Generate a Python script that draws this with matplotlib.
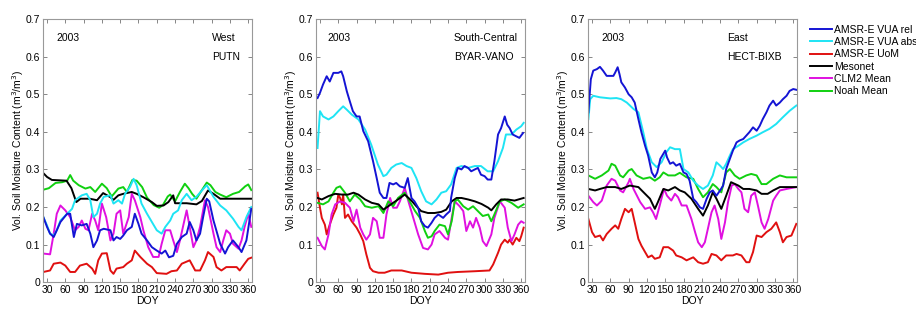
import matplotlib
matplotlib.use("Agg")
import matplotlib.pyplot as plt
from matplotlib.ticker import FuncFormatter

plt.rcParams["font.family"] = ["Liberation Sans", "DejaVu Sans"]
plt.rcParams["font.size"] = 7.5

labels = ["AMSR-E VUA rel", "AMSR-E VUA abs", "AMSR-E UoM", "Mesonet", "CLM2 Mean", "Noah Mean"]
colors = ["#1414d4", "#1ee4f4", "#e01010", "#000000", "#e010e0", "#10d010"]

# ---- West / PUTN ----
w_rel_doy = [24, 30, 35, 41, 46, 52, 63, 68, 74, 79, 87, 95, 101, 106, 112, 117, 123, 134, 139, 144, 150, 155, 161, 169, 174, 180, 185, 194, 202, 210, 218, 224, 230, 237, 243, 251, 259, 264, 270, 275, 281, 286, 292, 296, 303, 314, 322, 327, 335, 344, 349, 357, 365]
w_rel = [0.173, 0.147, 0.129, 0.12, 0.138, 0.16, 0.182, 0.182, 0.12, 0.155, 0.151, 0.155, 0.129, 0.093, 0.111, 0.138, 0.142, 0.138, 0.111, 0.12, 0.115, 0.124, 0.138, 0.147, 0.182, 0.155, 0.129, 0.111, 0.093, 0.084, 0.076, 0.084, 0.066, 0.07, 0.102, 0.12, 0.129, 0.16, 0.138, 0.111, 0.129, 0.173, 0.222, 0.215, 0.164, 0.102, 0.076, 0.093, 0.111, 0.093, 0.08, 0.111, 0.195]
w_abs_doy = [24, 30, 35, 41, 46, 52, 63, 71, 76, 87, 95, 101, 106, 112, 117, 123, 134, 139, 147, 153, 158, 166, 172, 177, 185, 194, 202, 210, 218, 224, 232, 237, 245, 251, 259, 267, 275, 284, 292, 303, 314, 324, 335, 344, 349, 357, 365]
w_abs = [0.173, 0.151, 0.129, 0.124, 0.138, 0.164, 0.182, 0.195, 0.218, 0.231, 0.235, 0.218, 0.173, 0.182, 0.209, 0.227, 0.231, 0.209, 0.218, 0.209, 0.235, 0.253, 0.275, 0.258, 0.209, 0.182, 0.16, 0.138, 0.129, 0.147, 0.164, 0.182, 0.191, 0.218, 0.235, 0.218, 0.227, 0.244, 0.258, 0.227, 0.204, 0.191, 0.169, 0.147, 0.138, 0.173, 0.2]
w_uom_doy = [24, 35, 41, 52, 60, 68, 76, 84, 95, 104, 109, 114, 120, 128, 134, 139, 144, 155, 161, 169, 174, 183, 194, 202, 210, 226, 234, 243, 251, 264, 273, 281, 289, 294, 303, 308, 316, 324, 341, 346, 354, 360, 365]
w_uom = [0.027, 0.031, 0.049, 0.052, 0.044, 0.027, 0.027, 0.044, 0.049, 0.036, 0.022, 0.058, 0.076, 0.077, 0.031, 0.022, 0.036, 0.04, 0.049, 0.058, 0.084, 0.067, 0.049, 0.04, 0.024, 0.022, 0.029, 0.031, 0.049, 0.058, 0.031, 0.031, 0.058, 0.08, 0.067, 0.04, 0.031, 0.04, 0.04, 0.031, 0.049, 0.062, 0.065]
w_mes_doy = [24, 30, 38, 62, 70, 78, 85, 100, 112, 122, 134, 139, 147, 155, 169, 177, 188, 202, 210, 221, 229, 237, 240, 259, 275, 284, 294, 303, 314, 365]
w_mes = [0.29, 0.28, 0.272, 0.27, 0.25, 0.213, 0.222, 0.222, 0.218, 0.237, 0.226, 0.219, 0.231, 0.235, 0.24, 0.235, 0.226, 0.213, 0.203, 0.204, 0.213, 0.231, 0.21, 0.21, 0.207, 0.216, 0.244, 0.235, 0.222, 0.222]
w_clm_doy = [24, 35, 41, 46, 52, 60, 68, 76, 82, 87, 93, 98, 104, 109, 114, 120, 127, 134, 139, 144, 150, 155, 164, 169, 174, 183, 188, 196, 204, 213, 218, 224, 232, 237, 243, 248, 254, 259, 264, 270, 275, 281, 289, 294, 303, 308, 314, 319, 324, 330, 335, 344, 349, 354, 360, 365]
w_clm = [0.076, 0.074, 0.129, 0.182, 0.204, 0.191, 0.173, 0.138, 0.147, 0.164, 0.142, 0.138, 0.182, 0.164, 0.138, 0.209, 0.173, 0.111, 0.129, 0.182, 0.191, 0.129, 0.173, 0.235, 0.218, 0.173, 0.138, 0.093, 0.067, 0.067, 0.102, 0.138, 0.138, 0.111, 0.08, 0.111, 0.155, 0.191, 0.147, 0.093, 0.111, 0.147, 0.218, 0.2, 0.129, 0.093, 0.08, 0.111, 0.138, 0.129, 0.102, 0.089, 0.111, 0.147, 0.182, 0.147]
w_noah_doy = [24, 33, 44, 55, 63, 68, 73, 82, 93, 101, 109, 120, 128, 136, 147, 155, 161, 170, 177, 186, 194, 205, 214, 220, 228, 232, 240, 248, 256, 262, 268, 275, 284, 292, 298, 306, 314, 324, 335, 345, 355, 360, 365]
w_noah = [0.246, 0.25, 0.264, 0.266, 0.27, 0.285, 0.27, 0.258, 0.249, 0.253, 0.24, 0.262, 0.25, 0.228, 0.249, 0.253, 0.24, 0.272, 0.27, 0.253, 0.225, 0.205, 0.198, 0.205, 0.228, 0.233, 0.215, 0.24, 0.262, 0.25, 0.235, 0.222, 0.245, 0.265, 0.258, 0.24, 0.233, 0.226, 0.235, 0.24, 0.255, 0.26, 0.245]

# ---- South-Central / BYAR-VANO ----
s_rel_doy = [26, 30, 35, 41, 46, 52, 60, 65, 68, 74, 79, 84, 90, 95, 101, 109, 117, 123, 128, 134, 139, 144, 150, 155, 161, 169, 174, 180, 185, 191, 196, 202, 207, 213, 218, 224, 232, 237, 243, 245, 251, 256, 262, 267, 273, 278, 284, 289, 294, 300, 305, 311, 316, 322, 327, 333, 337, 341, 346, 352, 357, 363]
s_rel = [0.49, 0.504, 0.526, 0.548, 0.534, 0.557, 0.557, 0.561, 0.548, 0.508, 0.481, 0.455, 0.441, 0.441, 0.402, 0.375, 0.322, 0.277, 0.238, 0.224, 0.224, 0.264, 0.26, 0.264, 0.255, 0.251, 0.277, 0.224, 0.215, 0.198, 0.162, 0.149, 0.145, 0.158, 0.171, 0.18, 0.171, 0.18, 0.189, 0.224, 0.277, 0.304, 0.3, 0.309, 0.304, 0.295, 0.3, 0.304, 0.286, 0.282, 0.273, 0.273, 0.322, 0.393, 0.41, 0.441, 0.419, 0.41, 0.393, 0.388, 0.384, 0.397]
s_abs_doy = [26, 30, 35, 44, 52, 60, 68, 74, 82, 93, 104, 114, 125, 134, 139, 147, 155, 164, 172, 180, 188, 196, 204, 213, 221, 229, 237, 245, 254, 262, 273, 284, 294, 305, 314, 322, 330, 335, 344, 352, 360, 364]
s_abs = [0.357, 0.455, 0.441, 0.433, 0.441, 0.455, 0.468, 0.459, 0.446, 0.433, 0.406, 0.366, 0.313, 0.282, 0.286, 0.304, 0.313, 0.317, 0.309, 0.304, 0.277, 0.242, 0.215, 0.207, 0.22, 0.238, 0.242, 0.26, 0.304, 0.309, 0.304, 0.309, 0.309, 0.295, 0.295, 0.322, 0.357, 0.393, 0.393, 0.406, 0.415, 0.424]
s_uom_doy = [26, 30, 33, 38, 41, 46, 52, 57, 60, 63, 66, 68, 71, 76, 82, 90, 96, 101, 106, 112, 117, 126, 136, 147, 164, 180, 202, 224, 240, 256, 284, 308, 314, 322, 327, 333, 338, 341, 346, 352, 357, 360, 364]
s_uom = [0.238, 0.198, 0.171, 0.153, 0.127, 0.153, 0.18, 0.198, 0.233, 0.224, 0.207, 0.233, 0.171, 0.18, 0.162, 0.145, 0.127, 0.109, 0.074, 0.038, 0.029, 0.025, 0.025, 0.031, 0.031, 0.025, 0.022, 0.02, 0.025, 0.027, 0.029, 0.031, 0.047, 0.078, 0.1, 0.113, 0.105, 0.113, 0.1, 0.118, 0.109, 0.122, 0.145]
s_mes_doy = [26, 33, 44, 55, 66, 76, 85, 93, 104, 115, 126, 134, 142, 150, 158, 169, 180, 188, 196, 207, 218, 229, 237, 246, 254, 262, 273, 284, 295, 306, 311, 319, 327, 338, 349, 364]
s_mes = [0.224, 0.22, 0.229, 0.235, 0.233, 0.233, 0.238, 0.233, 0.22, 0.211, 0.207, 0.193, 0.202, 0.211, 0.22, 0.233, 0.217, 0.202, 0.189, 0.184, 0.184, 0.187, 0.193, 0.215, 0.224, 0.224, 0.22, 0.215, 0.208, 0.198, 0.191, 0.207, 0.22, 0.22, 0.217, 0.224]
s_clm_doy = [26, 33, 38, 44, 49, 55, 63, 71, 79, 85, 90, 96, 101, 106, 112, 117, 123, 128, 134, 139, 145, 150, 156, 161, 169, 175, 183, 191, 199, 207, 213, 218, 226, 235, 240, 246, 251, 259, 265, 270, 276, 281, 286, 292, 297, 303, 311, 316, 325, 333, 338, 344, 349, 355, 360, 364]
s_clm = [0.118, 0.096, 0.087, 0.127, 0.18, 0.207, 0.215, 0.211, 0.198, 0.162, 0.193, 0.145, 0.127, 0.113, 0.127, 0.171, 0.162, 0.118, 0.118, 0.18, 0.224, 0.198, 0.198, 0.215, 0.251, 0.215, 0.171, 0.127, 0.091, 0.087, 0.1, 0.127, 0.136, 0.118, 0.113, 0.171, 0.215, 0.202, 0.189, 0.136, 0.162, 0.145, 0.171, 0.145, 0.109, 0.096, 0.127, 0.171, 0.215, 0.198, 0.145, 0.109, 0.127, 0.153, 0.162, 0.158]
s_noah_doy = [26, 35, 44, 52, 57, 63, 71, 79, 87, 96, 104, 115, 126, 134, 142, 150, 158, 169, 177, 186, 194, 202, 207, 213, 218, 226, 235, 240, 246, 251, 256, 265, 273, 281, 289, 297, 306, 311, 316, 325, 333, 344, 355, 364]
s_noah = [0.211, 0.207, 0.215, 0.238, 0.251, 0.255, 0.238, 0.215, 0.233, 0.22, 0.202, 0.198, 0.202, 0.184, 0.215, 0.202, 0.224, 0.238, 0.215, 0.189, 0.171, 0.136, 0.118, 0.122, 0.136, 0.153, 0.149, 0.127, 0.162, 0.215, 0.22, 0.202, 0.193, 0.202, 0.189, 0.176, 0.18, 0.162, 0.18, 0.215, 0.22, 0.211, 0.198, 0.207]

# ---- East / HECT-BIXB ----
e_rel_doy = [24, 28, 32, 38, 43, 48, 54, 65, 68, 72, 75, 78, 84, 90, 95, 100, 106, 111, 117, 122, 128, 133, 137, 142, 150, 153, 158, 163, 168, 174, 180, 185, 190, 196, 201, 207, 212, 218, 223, 228, 234, 240, 245, 250, 256, 261, 267, 272, 278, 283, 288, 294, 300, 305, 310, 316, 321, 327, 332, 338, 343, 349, 354, 360, 365]
e_rel = [0.452, 0.54, 0.563, 0.567, 0.573, 0.563, 0.549, 0.549, 0.558, 0.572, 0.554, 0.532, 0.518, 0.5, 0.492, 0.478, 0.434, 0.399, 0.363, 0.337, 0.292, 0.279, 0.292, 0.328, 0.35, 0.332, 0.315, 0.319, 0.31, 0.315, 0.292, 0.288, 0.27, 0.222, 0.213, 0.199, 0.195, 0.222, 0.239, 0.244, 0.23, 0.244, 0.257, 0.301, 0.328, 0.35, 0.372, 0.377, 0.381, 0.39, 0.399, 0.412, 0.403, 0.416, 0.434, 0.452, 0.47, 0.483, 0.47, 0.478, 0.487, 0.496, 0.509, 0.514, 0.512]
e_abs_doy = [24, 27, 32, 43, 60, 70, 78, 87, 98, 106, 114, 120, 128, 136, 144, 152, 158, 166, 174, 180, 188, 196, 204, 212, 220, 228, 234, 240, 245, 250, 256, 261, 270, 278, 288, 300, 310, 321, 332, 343, 354, 365]
e_abs = [0.434, 0.487, 0.496, 0.492, 0.489, 0.49, 0.487, 0.478, 0.461, 0.452, 0.399, 0.354, 0.319, 0.306, 0.319, 0.346, 0.359, 0.354, 0.354, 0.301, 0.292, 0.27, 0.257, 0.248, 0.257, 0.284, 0.319, 0.31, 0.301, 0.315, 0.337, 0.354, 0.363, 0.372, 0.381, 0.39, 0.399, 0.408, 0.421, 0.439, 0.456, 0.47]
e_uom_doy = [24, 30, 35, 43, 48, 54, 62, 68, 73, 78, 84, 90, 95, 100, 106, 111, 117, 122, 128, 133, 141, 147, 155, 163, 168, 177, 185, 196, 204, 212, 220, 226, 234, 242, 250, 261, 267, 275, 283, 288, 294, 300, 308, 316, 324, 332, 338, 343, 349, 357, 365]
e_uom = [0.168, 0.133, 0.12, 0.124, 0.111, 0.128, 0.142, 0.151, 0.142, 0.168, 0.195, 0.186, 0.195, 0.159, 0.115, 0.097, 0.08, 0.066, 0.071, 0.062, 0.066, 0.093, 0.093, 0.084, 0.071, 0.066, 0.058, 0.066, 0.053, 0.049, 0.053, 0.075, 0.071, 0.058, 0.071, 0.071, 0.075, 0.071, 0.053, 0.053, 0.08, 0.124, 0.12, 0.133, 0.142, 0.159, 0.133, 0.106, 0.12, 0.124, 0.155]
e_mes_doy = [24, 35, 43, 54, 68, 78, 92, 106, 117, 125, 133, 138, 147, 155, 166, 174, 182, 193, 204, 212, 220, 228, 234, 242, 250, 258, 270, 278, 288, 300, 308, 318, 327, 338, 349, 365]
e_mes = [0.248, 0.244, 0.248, 0.253, 0.253, 0.248, 0.257, 0.253, 0.235, 0.222, 0.195, 0.213, 0.248, 0.244, 0.253, 0.244, 0.239, 0.222, 0.195, 0.177, 0.204, 0.239, 0.222, 0.195, 0.23, 0.266, 0.257, 0.248, 0.248, 0.244, 0.235, 0.235, 0.244, 0.253, 0.253, 0.253]
e_clm_doy = [24, 32, 38, 46, 54, 62, 68, 76, 81, 90, 92, 98, 109, 117, 125, 130, 135, 141, 148, 153, 160, 166, 171, 177, 185, 193, 199, 204, 210, 215, 220, 226, 231, 237, 242, 248, 253, 259, 264, 270, 275, 280, 286, 291, 297, 302, 308, 313, 319, 327, 332, 338, 349, 365]
e_clm = [0.23, 0.213, 0.204, 0.217, 0.257, 0.275, 0.27, 0.244, 0.239, 0.266, 0.275, 0.248, 0.213, 0.195, 0.199, 0.186, 0.168, 0.204, 0.248, 0.23, 0.217, 0.235, 0.226, 0.204, 0.204, 0.168, 0.133, 0.106, 0.093, 0.106, 0.142, 0.186, 0.204, 0.168, 0.115, 0.159, 0.213, 0.257, 0.261, 0.248, 0.239, 0.195, 0.186, 0.23, 0.239, 0.204, 0.159, 0.142, 0.168, 0.217, 0.23, 0.244, 0.248, 0.253]
e_noah_doy = [24, 35, 46, 57, 62, 68, 76, 81, 90, 95, 103, 114, 125, 133, 141, 147, 155, 166, 174, 185, 196, 204, 212, 220, 228, 234, 242, 250, 256, 264, 272, 283, 291, 300, 308, 316, 327, 338, 349, 365]
e_noah = [0.284, 0.275, 0.284, 0.297, 0.315, 0.31, 0.284, 0.279, 0.297, 0.301, 0.284, 0.275, 0.279, 0.27, 0.279, 0.292, 0.284, 0.284, 0.291, 0.279, 0.275, 0.248, 0.226, 0.239, 0.261, 0.253, 0.239, 0.292, 0.301, 0.284, 0.275, 0.284, 0.288, 0.284, 0.261, 0.261, 0.275, 0.284, 0.279, 0.279]

panels = [
    ("West", "PUTN", [(w_rel_doy, w_rel), (w_abs_doy, w_abs), (w_uom_doy, w_uom),
                      (w_mes_doy, w_mes), (w_clm_doy, w_clm), (w_noah_doy, w_noah)]),
    ("South-Central", "BYAR-VANO", [(s_rel_doy, s_rel), (s_abs_doy, s_abs), (s_uom_doy, s_uom),
                                    (s_mes_doy, s_mes), (s_clm_doy, s_clm), (s_noah_doy, s_noah)]),
    ("East", "HECT-BIXB", [(e_rel_doy, e_rel), (e_abs_doy, e_abs), (e_uom_doy, e_uom),
                           (e_mes_doy, e_mes), (e_clm_doy, e_clm), (e_noah_doy, e_noah)]),
]
region_x = [0.81, 0.66, 0.665]
lefts = [0.047, 0.345, 0.642]

fig = plt.figure(figsize=(9.16, 3.09), dpi=100)
for i, (region, site, series) in enumerate(panels):
    ax = fig.add_axes([lefts[i], 0.087, 0.228, 0.851])
    # draw order: red, magenta, green, black, cyan, blue
    for k in [2, 4, 5, 3, 1, 0]:
        d, v = series[k]
        ax.plot(d, v, color=colors[k], lw=1.4, label=labels[k])
    ax.set_xlim(23.5, 366)
    ax.set_ylim(0, 0.7)
    ax.set_xticks(range(30, 361, 30))
    ax.set_yticks([0, 0.1, 0.2, 0.3, 0.4, 0.5, 0.6, 0.7])
    ax.yaxis.set_major_formatter(FuncFormatter(lambda y, p: "0" if y == 0 else f"{y:.1f}"))
    ax.tick_params(direction="in", top=True, right=True, length=3, width=0.6,
                   color="0.45", pad=2, labelsize=7.5)
    for sp in ax.spines.values():
        sp.set_color("0.6")
        sp.set_linewidth(0.8)
    ax.set_xlabel("DOY", labelpad=1)
    ax.set_ylabel("Vol. Soil Moisture Content (m$^3$/m$^3$)", labelpad=0)
    ax.text(0.065 if i != 1 else 0.053, 0.93, "2003", transform=ax.transAxes, va="center")
    ax.text(region_x[i], 0.93, region, transform=ax.transAxes, va="center")
    ax.text(region_x[i], 0.857, site, transform=ax.transAxes, va="center")

handles, labs = ax.get_legend_handles_labels()
order = [labs.index(l) for l in labels]
fig.legend([handles[j] for j in order], labels, loc="upper left",
           bbox_to_anchor=(0.884, 0.92), frameon=False, handlelength=2.1,
           handletextpad=0.2, labelspacing=0.22, borderpad=0, borderaxespad=0,
           fontsize=7.5)

fig.savefig("out.png", dpi=100)
